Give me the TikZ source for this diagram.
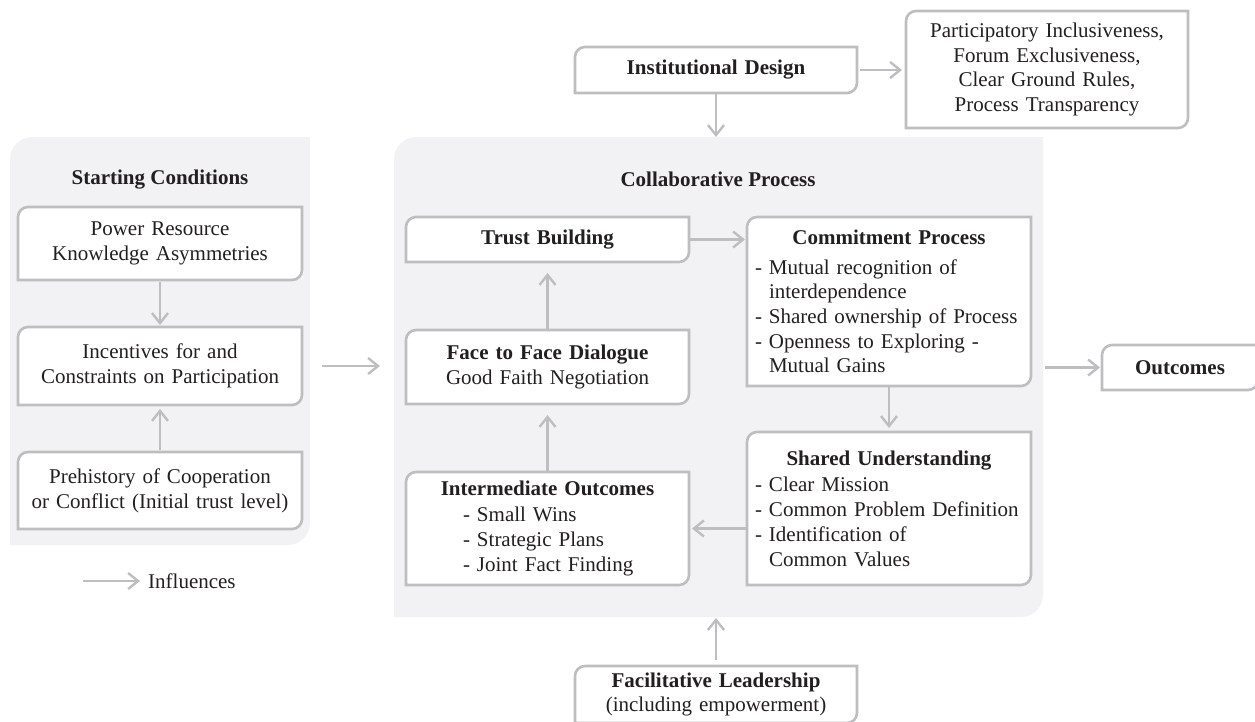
\documentclass[tikz,border=0pt]{standalone}
\usepackage{fontspec}
\setmainfont{Liberation Serif}
\usetikzlibrary{arrows.meta}
\definecolor{boxgray}{HTML}{BEBEC1}
\definecolor{panelfill}{HTML}{F2F2F4}
\definecolor{ink}{HTML}{231F20}
\pgfdeclarelayer{panels}
\pgfdeclarelayer{boxes}
\pgfsetlayers{panels,boxes,main}
\tikzset{
  every node/.style={font=\fontsize{21}{24.7}\selectfont, text=ink},
  shapebox/.style={inner sep=0pt, outer sep=0pt, align=center},
  listbox/.style={inner ysep=0pt, inner xsep=8pt, outer sep=0pt, align=left},
  boxstyle/.style={draw=boxgray, line width=2.6pt, fill=white},
  arr/.style={draw=boxgray, line width=2.4pt, -{Straight Barb[length=10pt,width=16pt]}},
}
\newcommand\drawbox[2][10]{\draw[boxstyle] (#2.south west) -- ([yshift=-#1pt]#2.north west) arc[start angle=180,end angle=90,radius=#1pt] -- (#2.north east) -- ([yshift=#1pt]#2.south east) arc[start angle=0,end angle=-90,radius=#1pt] -- cycle;}
\newcommand\drawpanel[2][22]{\fill[panelfill] (#2.south west) -- ([yshift=-#1pt]#2.north west) arc[start angle=180,end angle=90,radius=#1pt] -- (#2.north east) -- ([yshift=#1pt]#2.south east) arc[start angle=0,end angle=-90,radius=#1pt] -- cycle;}
\newcommand\dsh{\hphantom{- }}
\begin{document}
\begin{tikzpicture}[x=1pt,y=1pt]
\useasboundingbox (0,0) rectangle (1255,-721);
% panels
\node[shapebox, minimum width=300pt, minimum height=408pt] (sc) at (160,-341) {};
\node[shapebox, minimum width=649pt, minimum height=480pt] (cp) at (718.5,-377) {};
\node (sctitle) at (160,-180) {\textbf{Starting Conditions}};
\node (cptitle) at (718,-179) {\textbf{Collaborative Process}};
% starting conditions boxes
\node[shapebox, text width=284pt, minimum height=73pt] (pr) at (160,-243.5) {Power Resource\\Knowledge Asymmetries};
\node[shapebox, text width=284pt, minimum height=78pt] (inc) at (160,-366) {Incentives for and\\Constraints on Participation};
\node[shapebox, text width=284pt, minimum height=77pt] (pre) at (160,-490.5) {Prehistory of Cooperation\\or Conflict (Initial trust level)};
% top
\node[shapebox, text width=282pt, minimum height=46pt] (id) at (716,-70) {\textbf{Institutional Design}};
\node[shapebox, text width=282pt, minimum height=117pt] (pi) at (1047,-69.5) {Participatory Inclusiveness,\\Forum Exclusiveness,\\Clear Ground Rules,\\Process Transparency};
% collaborative process
\node[shapebox, text width=283pt, minimum height=45pt] (tb) at (547.5,-239.5) {\textbf{Trust Building}};
\node[shapebox, text width=283pt, minimum height=74pt] (ff) at (547.5,-367) {\textbf{Face to Face Dialogue}\\Good Faith Negotiation};
\node[listbox, text width=267pt, minimum height=113pt] (io) at (547.5,-528.5) {\makebox[\linewidth]{\textbf{Intermediate Outcomes}}\\[1pt]
  \hspace*{49pt}\mbox{- Small Wins}\\
  \hspace*{49pt}\mbox{- Strategic Plans}\\
  \hspace*{49pt}\mbox{- Joint Fact Finding}};
\node[listbox, text width=268pt, minimum height=169pt] (cm) at (889,-301.5) {\makebox[\linewidth]{\textbf{Commitment Process}}\\[5pt]
  \mbox{- Mutual recognition of}\\
  \mbox{\dsh interdependence}\\
  \mbox{- Shared ownership of Process}\\
  \mbox{- Openness to Exploring -}\\
  \mbox{\dsh Mutual Gains}};
\node[listbox, text width=268pt, minimum height=153pt] (su) at (889,-508.5) {\makebox[\linewidth]{\textbf{Shared Understanding}}\\[2pt]
  \mbox{- Clear Mission}\\
  \mbox{- Common Problem Definition}\\
  \mbox{- Identification of}\\
  \mbox{\dsh Common Values}};
% outcomes and leadership
\node[shapebox, text width=156pt, minimum height=45pt] (oc) at (1180,-367.5) {\textbf{Outcomes}};
\node[shapebox, text width=282pt, minimum height=57pt] (fl) at (716,-694.5) {\textbf{Facilitative Leadership}\\(including empowerment)};
% legend
\coordinate (lg) at (83,-581);
\node[anchor=west, inner sep=0pt] (inf) at (148,-581) {Influences};
% backgrounds
\begin{pgfonlayer}{panels}
  \drawpanel{sc}
  \drawpanel{cp}
\end{pgfonlayer}
\begin{pgfonlayer}{boxes}
  \drawbox{pr}\drawbox{inc}\drawbox{pre}
  \drawbox{id}\drawbox{pi}
  \drawbox{tb}\drawbox{ff}\drawbox{io}\drawbox{cm}\drawbox{su}
  \drawbox{oc}\drawbox{fl}
\end{pgfonlayer}
% connectors
\draw[arr, shorten <=2pt, shorten >=2pt] (pr) -- (inc);
\draw[arr, shorten <=2pt, shorten >=4pt] (pre) -- (inc);
\draw[arr, shorten <=12pt, shorten >=14pt] (sc.east |- inc) -- (cp.west |- inc);
\draw[arr, shorten <=3pt, shorten >=4pt] (id.east) -- (id.east -| pi.west);
\draw[arr, shorten <=1pt, shorten >=0pt] (id.south) -- (id.south |- cp.north);
\draw[arr, shorten <=1pt, shorten >=2pt] (tb.east) -- (tb.east -| cm.west);
\draw[arr, shorten <=1pt, shorten >=11pt] (ff) -- (tb);
\draw[arr, shorten <=1pt, shorten >=11pt] (io) -- (ff);
\draw[arr, shorten <=1pt, shorten >=4pt] (cm) -- (su);
\draw[arr, shorten <=1pt, shorten >=3pt] (su.west |- io.east) -- (io.east);
\draw[arr, shorten <=2pt, shorten >=2pt] (cp.east |- oc.west) -- (oc.west);
\draw[arr, shorten <=6pt, shorten >=1pt] (fl.north) -- (fl.north |- cp.south);
\draw[arr, shorten >=8pt] (lg) -- (inf.west);
\end{tikzpicture}
\end{document}
